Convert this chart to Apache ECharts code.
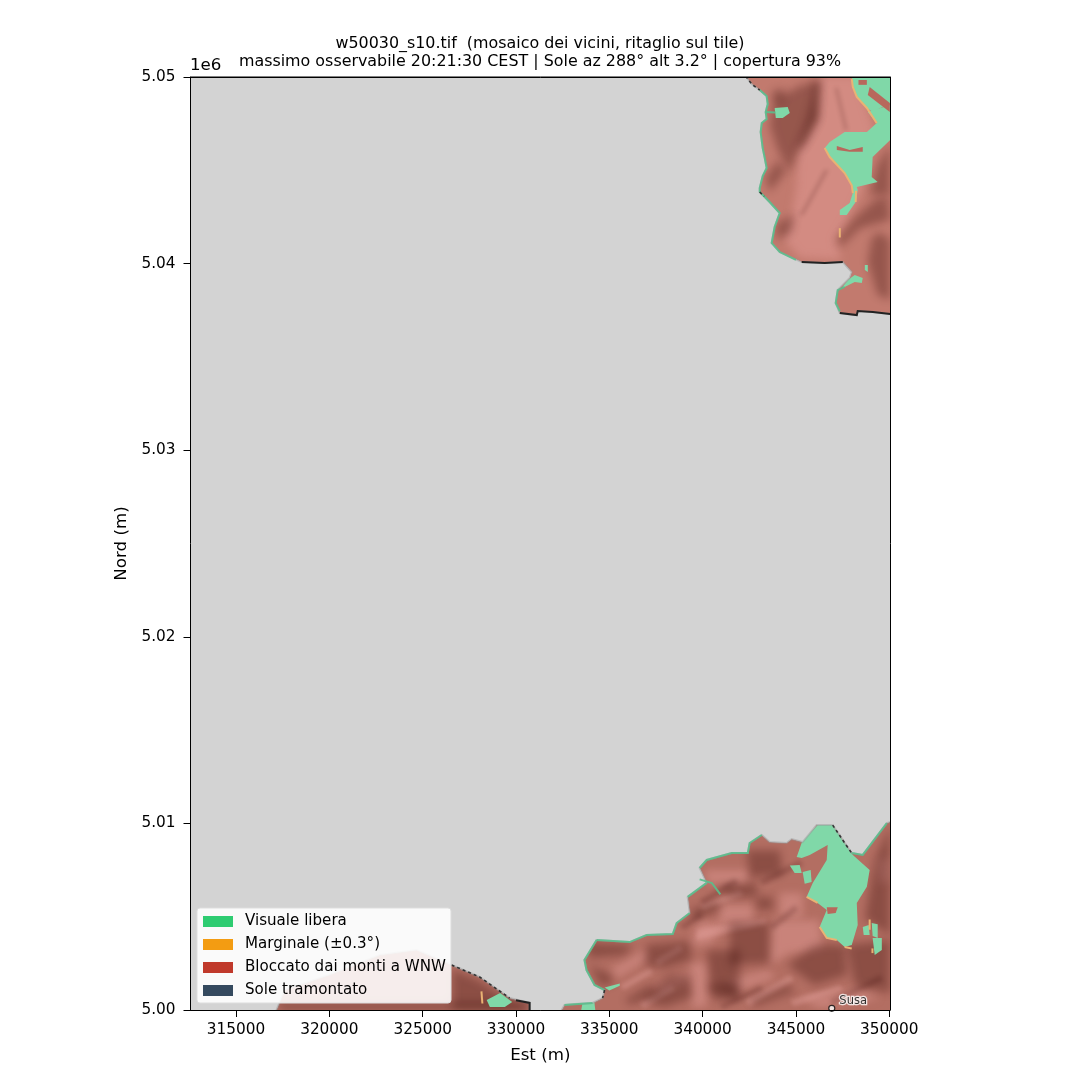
<!DOCTYPE html>
<html><head><meta charset="utf-8">
<style>html,body{margin:0;padding:0;background:#fff}#c{width:1080px;height:1080px}</style>
<script src="https://cdn.jsdelivr.net/npm/echarts@6/dist/echarts.min.js"></script></head>
<body><div id="c"></div>
<script>
// all map coordinates are [Est km, Nord km]
const xTicks=[315000,320000,325000,330000,335000,340000,345000,350000];
const blockedTop=[[342.31,5050.05],[342.63,5049.62],[343.06,5049.30],[343.43,5048.98],[343.49,5048.55],[343.38,5048.12],[343.43,5047.75],[343.17,5047.53],[343.11,5047.05],[343.22,5046.19],[343.33,5045.66],[343.43,5045.12],[343.22,5044.69],[343.06,5044.05],[343.06,5043.84],[343.59,5043.30],[344.13,5042.71],[343.86,5041.96],[343.70,5041.10],[344.13,5040.62],[345.31,5040.08],[346.54,5040.03],[347.51,5040.08],[347.99,5039.55],[347.88,5039.23],[347.24,5038.58],[347.13,5037.89],[347.35,5037.35],[348.26,5037.24],[348.31,5037.46],[349.12,5037.40],[350.05,5037.30],[350.05,5050.05]];
const blockedRight=[[332.45,5000.00],[332.60,5000.27],[333.14,5000.32],[334.10,5000.38],[334.64,5000.64],[334.75,5001.07],[334.21,5001.34],[333.78,5002.14],[333.67,5002.68],[334.32,5003.75],[336.09,5003.64],[337.00,5004.02],[338.40,5004.07],[338.61,5004.66],[339.31,5005.20],[339.20,5006.06],[340.22,5006.81],[339.84,5007.61],[340.22,5008.04],[341.56,5008.41],[342.42,5008.41],[342.52,5008.95],[343.17,5009.38],[343.59,5009.00],[344.50,5008.95],[344.77,5009.16],[345.36,5009.00],[346.11,5009.91],[346.97,5009.91],[347.99,5008.41],[348.58,5008.31],[349.87,5010.02],[350.05,5010.07],[350.05,5000.00]];
const blockedLeft=[[317.17,5000.00],[317.6,5001.07],[320.0,5001.88],[322.7,5002.95],[324.67,5003.22],[326.55,5002.41],[328.05,5001.77],[329.66,5000.64],[330.73,5000.38],[330.73,5000.00]];
const freeAreas=[
[[347.99,5050.05],[350.05,5050.05],[350.05,5048.6],[349.11,5048.12],[348.8,5048.34],[348.26,5048.93],[348.05,5049.46]],
[[348.85,5048.12],[350.05,5048.5],[350.05,5046.62],[349.11,5045.71],[349.06,5044.64],[349.38,5044.37],[348.26,5044.1],[348.31,5043.94],[348.2,5043.3],[347.72,5042.6],[347.35,5042.6],[347.35,5042.87],[347.88,5043.25],[348.05,5043.78],[347.99,5044.2],[347.61,5044.85],[346.81,5045.71],[346.54,5046.2],[346.81,5046.52],[347.61,5047.05],[348.8,5047.05],[349.33,5047.53]],
[[343.86,5048.34],[344.56,5048.39],[344.67,5048.07],[344.29,5047.8],[343.92,5047.8]],
[[347.78,5039.12],[348.15,5039.39],[348.58,5039.23],[348.53,5038.96],[348.15,5039.01],[347.61,5038.75],[347.45,5038.69]],
[[348.69,5039.93],[348.85,5039.93],[348.85,5039.55],[348.69,5039.66]],
[[346.16,5009.91],[346.97,5009.91],[347.61,5008.95],[348.05,5008.3],[348.95,5007.5],[348.8,5006.6],[348.26,5005.74],[348.31,5004.56],[347.99,5003.48],[347.61,5003.38],[347.19,5003.75],[346.65,5003.86],[346.27,5004.45],[346.65,5005.36],[346.16,5005.74],[345.57,5006.06],[345.9,5006.81],[346.65,5008.04],[346.7,5008.84],[345.74,5008.3],[345.31,5008.15],[345.04,5008.2],[345.36,5009.11]],
[[344.67,5007.74],[345.2,5007.77],[345.31,5007.34],[344.93,5007.34]],
[[345.36,5007.4],[345.79,5007.5],[345.84,5006.86],[345.47,5006.76]],
[[348.58,5004.45],[348.9,5004.56],[348.95,5004.02],[348.63,5004.02]],
[[349.06,5004.66],[349.38,5004.6],[349.38,5003.86],[349.11,5003.97]],
[[349.11,5003.86],[349.6,5003.86],[349.6,5003.22],[349.22,5002.95]],
[[333.57,5000.43],[334.2,5000.43],[334.25,5000],[333.5,5000]],
[[334.75,5001.2],[335.56,5001.42],[335.56,5001.3],[335.0,5001.05]],
[[328.43,5000.54],[329.15,5000.91],[329.8,5000.43],[329.4,5000.16],[328.6,5000.16]]
];
const freeEdges=[
[[343.06,5049.30],[343.43,5048.98],[343.49,5048.55],[343.38,5048.12],[343.43,5047.75],[343.17,5047.53],[343.11,5047.05],[343.22,5046.19],[343.33,5045.66],[343.43,5045.12],[343.22,5044.69],[343.06,5044.05],[343.06,5043.84],[343.59,5043.30],[344.13,5042.71],[343.86,5041.96],[343.70,5041.10],[344.13,5040.62],[345.0,5040.2]],
[[343.38,5048.12],[343.9,5048.1]],
[[347.61,5038.75],[347.24,5038.58],[347.13,5037.89],[347.35,5037.45]],
[[334.32,5003.75],[336.09,5003.64],[337.00,5004.02],[338.40,5004.07],[338.61,5004.66],[339.31,5005.20]],
[[339.84,5007.61],[340.22,5008.04],[341.56,5008.41],[342.42,5008.41],[342.52,5008.95],[343.17,5009.38]],
[[347.99,5008.41],[348.58,5008.31],[349.87,5010.02]],
[[334.75,5001.07],[334.21,5001.34],[333.78,5002.14],[333.67,5002.68],[334.32,5003.75]],
[[332.60,5000.27],[334.10,5000.38]],
[[339.84,5007.0],[340.5,5006.8],[340.95,5006.2]],
[[339.2,5006.06],[340.22,5006.81]]
];
const marginalEdges=[
[[347.99,5049.9],[348.05,5049.46],[348.26,5048.93],[348.8,5048.34],[349.33,5047.53]],
[[346.54,5046.2],[346.81,5045.71],[347.61,5044.85],[347.99,5044.2],[348.05,5043.78]],
[[348.22,5043.9],[348.2,5043.3]],
[[347.35,5041.9],[347.35,5041.4]],
[[345.57,5006.06],[346.16,5005.74]],
[[346.27,5004.45],[346.65,5003.86],[347.19,5003.75]],
[[347.61,5003.38],[347.99,5003.3]],
[[348.95,5004.85],[348.95,5004.3]],
[[349.1,5003.3],[349.1,5003.05]],
[[328.15,5001.0],[328.2,5000.35]]
];
const blockedPatches=[
[[348.95,5049.46],[350.03,5048.6],[350.03,5048.12],[348.85,5049.03]],
[[347.19,5046.3],[347.88,5046.09],[348.58,5046.25],[348.58,5046],[347.88,5046],[347.19,5046.09]],
[[346.65,5005.5],[347.24,5005.5],[347.13,5005.2],[346.7,5005.15]],
[[348.35,5049.84],[348.8,5049.84],[348.8,5049.58],[348.35,5049.58]]
];
const shadeLight=[
[[346.27,5050.05],[348.31,5050.05],[349.22,5047.16],[348.52,5043.94],[347.88,5042.61],[347.08,5041.26],[347.45,5040.19],[345.20,5040.30],[344.40,5041.26],[344.77,5042.61],[345.04,5044.21],[345.09,5046.09],[346.11,5047.70]],
[[339.84,5004.82],[341.18,5004.56],[340.38,5003.48],[339.31,5003.48]],
[[335.02,5002.14],[336.9,5003.22],[337.16,5002.79],[335.45,5001.72]],
[[337.52,5001.23],[339.14,5001.98],[339.3,5001.6],[337.8,5000.91]],
[[339.31,5002.52],[340.22,5002.52],[340.22,5000.16],[339.4,5000.16]],
[[343.76,5004.82],[346.27,5004.82],[346.38,5003.22],[344.67,5003.05],[343.59,5002.41]],
[[340.11,5007.5],[342.47,5007.5],[342.37,5006.81],[340.22,5006.81]],
[[340.91,5005.63],[342.69,5005.63],[342.69,5004.56],[340.91,5004.56]],
[[344.13,5006.27],[345.36,5006.27],[345.36,5004.99],[344.13,5004.99]],
[[341.45,5001.61],[343.59,5002.14],[343.86,5001.72],[341.72,5001.0]],
[[345.2,5000.64],[348.42,5001.07],[349.49,5000.64],[346.27,5000.11]],
[[349.38,5008.04],[349.97,5008.15],[349.97,5006.97],[349.49,5006.7]]
];
const streakLight=[
[[335.56,5001.34],[337.16,5002.25],[337.37,5001.98],[335.77,5001.07]],
[[336.63,5000.38],[338.34,5001.34],[338.56,5001.07],[336.85,5000.1]],
[[337.43,5002.68],[338.77,5003.48],[338.98,5003.2],[337.64,5002.4]],
[[339.68,5004.3],[343.4,5004.9],[343.4,5004.6],[339.68,5003.75]],
[[342.26,5000.54],[344.67,5001.88],[344.9,5001.6],[342.5,5000.2]],
[[344.67,5000.54],[347.35,5001.34],[347.55,5001.07],[344.9,5000.2]],
[[339.84,5005.63],[341.99,5006.43],[342.2,5006.16],[340.05,5005.36]]
];
const streakDark=[
[[340.91,5000.27],[343.06,5001.34],[343.27,5001.07],[341.12,5000.05]],
[[346.81,5000.54],[349.49,5001.88],[349.7,5001.6],[347.0,5000.27]],
[[343.06,5006.97],[345.2,5008.04],[345.4,5007.77],[343.27,5006.7]],
[[339.84,5005.9],[341.72,5007.07],[341.93,5006.8],[340.05,5005.63]],
[[338.77,5004.56],[339.84,5005.25],[340.05,5005.0],[339,5004.3]],
[[343.59,5004.56],[344.93,5005.63],[345.14,5005.36],[343.8,5004.3]],
[[347.08,5049.41],[347.61,5047.16],[347.77,5047.16],[347.24,5049.41]],
[[346.54,5045.02],[345.2,5042.6],[345.4,5042.6],[346.75,5045.02]]
];
const shadeDark=[
[[343.85,5048.77],[345.20,5049.52],[346.27,5049.84],[346.16,5047.80],[345.20,5046.09],[344.67,5044.91],[344.02,5046.09],[343.59,5047.43]],
[[346.0,5049.73],[346.33,5049.84],[346.22,5047.80],[345.47,5046.35],[344.99,5046.09],[345.52,5047.59],[345.84,5048.77]],
[[344.02,5045.55],[343.38,5044.59],[343.59,5043.84],[344.45,5044.91]],
[[343.92,5042.12],[344.93,5042.66],[344.77,5041.69],[344.02,5041.26]],
[[343.70,5049.2],[344.29,5049.41],[344.40,5048.77],[343.86,5048.55]],
[[349.92,5043.57],[349.22,5043.41],[348.15,5042.44],[347.19,5041.26],[347.45,5040.94],[348.42,5041.9],[350.03,5042.34]],
[[350.03,5046.36],[349.38,5045.28],[348.95,5043.68],[350.03,5043.68]],
[[349.06,5041.37],[349.49,5041.69],[350.03,5041.26],[350.03,5038.05],[349.38,5038.32],[348.85,5040.08]],
[[337.0,5003.5],[339.31,5003.7],[339.41,5002.68],[337.97,5002.25],[336.9,5002.41]],
[[340.22,5001.34],[341.83,5001.45],[341.98,5000.54],[340.65,5000.54]],
[[340.22,5003.22],[341.99,5003.22],[341.99,5000.7],[340.48,5001.07]],
[[341.45,5004.72],[343.59,5004.72],[343.59,5002.52],[341.45,5002.41]],
[[344.55,5002.41],[345.99,5003.48],[347.61,5003.48],[347.72,5001.88],[345.99,5001.34]],
[[347.72,5003.48],[350.03,5003.75],[350.03,5000.91],[348.15,5001.34]],
[[350.03,5009.86],[350.03,5004.0],[348.7,5004.9],[348.95,5006.43],[349.22,5008.04]],
[[342.36,5008.56],[344.13,5008.56],[344.29,5007.23],[342.52,5007.12]],
[[341.1,5006.70],[342.9,5006.81],[342.9,5006.06],[341.2,5006.06]],
[[342.9,5006.06],[343.75,5006.06],[343.75,5005.36],[342.9,5005.36]],
[[333.79,5003.62],[336.25,5003.48],[335.82,5002.95],[333.95,5002.79]],
[[333.95,5002.41],[335.13,5001.88],[335.13,5001.34],[334.48,5001.34]],
[[336.63,5000.54],[338.23,5001.88],[339.31,5001.88],[339.47,5000.70],[337.97,5000.16]],
[[335.82,5000.54],[337.16,5001.34],[337.43,5001.07],[336.2,5000.27]],
[[342.52,5000.54],[344.67,5001.34],[344.93,5000.96],[342.79,5000.21]],
[[339.31,5005.36],[340.91,5005.9],[340.91,5005.36],[339.57,5004.82]],
[[326.6,5002.2],[328.0,5001.6],[329.5,5000.6],[330.6,5000.3],[330.6,5000],[326.6,5000]],
[[317.3,5000.4],[330.6,5000.4],[330.6,5000],[317.3,5000]]
];
const sunsetEdges=[
[[345.31,5040.08],[346.54,5040.03],[347.51,5040.08]],
[[347.35,5037.35],[348.26,5037.24],[348.31,5037.46],[349.12,5037.40],[350.05,5037.30]],
[[330.0,5000.52],[330.73,5000.38],[330.73,5000.00]]
];
const sunsetDashes=[
[[342.31,5050.05],[342.63,5049.62],[343.06,5049.30]],
[[346.97,5009.91],[347.61,5008.95],[347.99,5008.41]],
[[334.75,5001.07],[334.64,5000.64]],
[[326.55,5002.41],[328.05,5001.77],[329.66,5000.64]],
[[343.06,5043.84],[343.3,5043.6]]
];
const legendNames=['Visuale libera','Marginale (±0.3°)','Bloccato dai monti a WNW','Sole tramontato'];
const susa=[346920,5000090];
const noDataArea=[[312,5051],[342.31,5051]].concat(blockedTop.slice(0,-1),[[351,5037.3],[351,5010.07]],
  blockedRight.slice(0,-1).reverse(),[[332.45,4999],[330.73,4999]],blockedLeft.slice().reverse(),[[317.17,4999],[312,4999]]);

const OFF=3000;
function layer(name,polys,legendColor,style,kind,z){
  return {type:'custom',name,clip:true,silent:true,z,coordinateSystem:'cartesian2d',
    itemStyle:{color:legendColor},encode:{x:0,y:1},
    data:polys.map((p,i)=>[xTicks[0],5000000+i,i]),
    renderItem(params,api){
      const pts=polys[api.value(2)].map(p=>api.coord([p[0]*1000,p[1]*1000]));
      if(kind==='soft') return {type:'polygon',shape:{points:pts.map(q=>[q[0]-OFF,q[1]])},
        style:Object.assign({fill:'#000',shadowOffsetX:OFF,shadowOffsetY:0},style)};
      return {type:kind,shape:{points:pts},style:Object.assign({},style)};
    }};
}
const series=[
 layer(legendNames[2],[blockedTop,blockedRight,blockedLeft],'#c0392b',{fill:'#c27a6e'},'polygon',2),
 layer('mid',[blockedRight,blockedLeft],'#000',{fill:'rgba(50,5,0,0.10)'},'polygon',2),
 layer('light',shadeLight,'#fff',{shadowColor:'rgba(240,170,165,0.36)',shadowBlur:9},'soft',2),
 layer('streakLight',streakLight,'#fff',{shadowColor:'rgba(240,175,170,0.32)',shadowBlur:4},'soft',2),
 layer('dark',shadeDark,'#000',{shadowColor:'rgba(50,5,0,0.30)',shadowBlur:9},'soft',3),
 layer('streakDark',streakDark,'#000',{shadowColor:'rgba(50,5,0,0.18)',shadowBlur:4},'soft',3),
 layer(legendNames[0],freeAreas,'#2ecc71',{fill:'#80d8a8'},'polygon',4),
 layer('blockedPatch',blockedPatches,'#c0392b',{fill:'#b8685c'},'polygon',4),
 layer('noData',[noDataArea],'#d3d3d3',{fill:'#d3d3d3',stroke:'rgba(150,150,150,0.45)',lineWidth:2},'polygon',5),
 layer('freeEdge',freeEdges,'#2ecc71',{fill:'none',stroke:'rgba(90,190,140,0.9)',lineWidth:2},'polyline',6),
 layer(legendNames[1],marginalEdges,'#f39c12',{fill:'none',stroke:'#e9b373',lineWidth:2},'polyline',6),
 layer(legendNames[3],sunsetEdges,'#34495e',{fill:'none',stroke:'#222',lineWidth:2},'polyline',7),
 layer('sunsetDash',sunsetDashes,'#34495e',{fill:'none',stroke:'#333',lineWidth:1.6,lineDash:[3,3]},'polyline',7),
 {type:'scatter',name:'Susa',z:8,data:[susa],symbolSize:6,clip:false,silent:true,
  itemStyle:{color:'#fff',borderColor:'#000',borderWidth:1.2},
  label:{show:true,formatter:'Susa',position:'right',offset:[-1,-7],fontFamily:'DejaVu Sans',fontSize:11.5,color:'#000',textBorderColor:'#fff',textBorderWidth:2.5}}
];
const font='DejaVu Sans';
const chart=echarts.init(document.getElementById('c'),null,{renderer:'canvas'});
chart.setOption({
 animation:false,backgroundColor:'#fff',
 title:{text:'w50030_s10.tif  (mosaico dei vicini, ritaglio sul tile)\nmassimo osservabile 20:21:30 CEST | Sole az 288° alt 3.2° | copertura 93%',
   left:535,top:30,textAlign:'center',textStyle:{fontFamily:font,fontSize:15.9,fontWeight:'normal',color:'#000',lineHeight:18}},
 grid:{left:190.5,top:77,width:699.5,height:933,show:true,backgroundColor:'#d3d3d3',borderColor:'#000',borderWidth:1,containLabel:false},
 legend:{data:legendNames.map(n=>({name:n,icon:'rect'})),orient:'vertical',left:197,top:908,
   itemWidth:30,itemHeight:11,itemGap:8,padding:[6,5,5,6],
   backgroundColor:'rgba(255,255,255,0.88)',borderColor:'#ddd',borderWidth:1,borderRadius:3,z:20,
   selectedMode:false,textStyle:{fontFamily:font,fontSize:15.1,color:'#000',padding:[0,0,0,7]}},
 xAxis:[{type:'value',min:312560,max:350040,name:'Est (m)',nameLocation:'middle',nameGap:37,
   nameTextStyle:{fontFamily:font,fontSize:16.67,color:'#000'},
   axisLine:{show:true,onZero:false,lineStyle:{color:'#000',width:1}},z:10,
   axisTick:{show:true,length:7,lineStyle:{color:'#000'},customValues:xTicks},
   axisLabel:{color:'#000',fontFamily:font,fontSize:15.3,margin:13,customValues:xTicks,formatter:v=>String(v)},
   splitLine:{show:false}},
  {type:'value',min:312560,max:350040,position:'top',z:10,axisLine:{show:true,onZero:false,lineStyle:{color:'#000',width:1}},axisTick:{show:false},axisLabel:{show:false},splitLine:{show:false}}],
 yAxis:[{type:'value',min:5000000,max:5050000,interval:10000,name:'Nord (m)',nameLocation:'middle',nameGap:57,
   nameTextStyle:{fontFamily:font,fontSize:16.67,color:'#000'},z:10,
   axisLine:{show:true,onZero:false,lineStyle:{color:'#000',width:1}},
   axisTick:{show:true,length:7,lineStyle:{color:'#000'}},
   axisLabel:{color:'#000',fontFamily:font,fontSize:15.3,margin:15,formatter:v=>(v/1e6).toFixed(2)},
   splitLine:{show:false}},
  {type:'value',min:5000000,max:5050000,interval:10000,position:'right',z:10,axisLine:{show:true,onZero:false,lineStyle:{color:'#000',width:1}},axisTick:{show:false},axisLabel:{show:false},splitLine:{show:false}}],
 graphic:[{type:'text',left:190,top:57,z:30,style:{text:'1e6',font:'16.67px "DejaVu Sans"',fill:'#000'}}],
 series
});
</script></body></html>
